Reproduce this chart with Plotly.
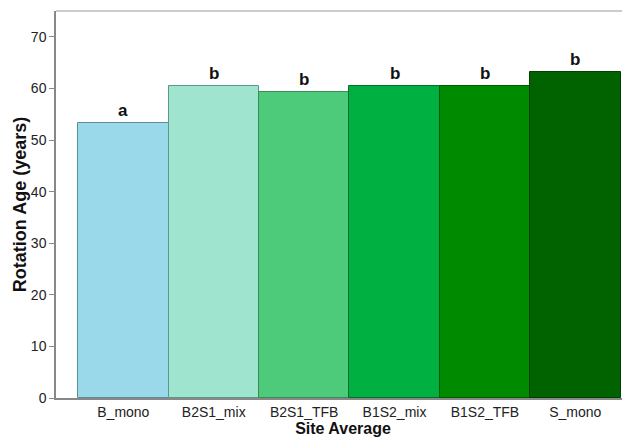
import plotly.graph_objects as go

categories = ["B_mono", "B2S1_mix", "B2S1_TFB", "B1S2_mix", "B1S2_TFB", "S_mono"]
rotation_age = [53.2, 60.4, 59.3, 60.4, 60.5, 63.2]
group_letters = ["a", "b", "b", "b", "b", "b"]
bar_colors = ["#9AD9EA", "#9FE4CE", "#4DCB7B", "#00B141", "#008A00", "#006300"]
edge_colors = ["#5F8E95", "#5E9688", "#3A8A5A", "#0A6A30", "#045A04", "#023F02"]
y_ticks = [0, 10, 20, 30, 40, 50, 60, 70]

fig = go.Figure()
fig.add_trace(go.Bar(
    x=categories, y=rotation_age,
    marker=dict(color=bar_colors, line=dict(color=edge_colors, width=1)),
    width=1.0,
    showlegend=False,
))

for c, v, t in zip(categories, rotation_age, group_letters):
    fig.add_annotation(x=c, y=v, text="<b>" + t + "</b>", showarrow=False,
                       yanchor="bottom", yshift=1,
                       font=dict(family="Liberation Sans", size=17, color="#111111"))

fig.add_shape(type="line", xref="paper", yref="paper", x0=0, x1=1, y0=1, y1=1,
              line=dict(color="#BBBBBB", width=1.5))

fig.update_layout(
    width=622, height=429,
    margin=dict(l=48, r=0, t=3, b=39),
    plot_bgcolor="white", paper_bgcolor="white",
    bargap=0,
    font=dict(family="Liberation Sans", color="#333333"),
    xaxis=dict(
        range=[-0.745, 5.605],
        showline=True, linecolor="#888888", linewidth=1.5,
        ticks="", showgrid=False,
        tickfont=dict(size=14, color="#222222"),
        title=dict(text="<b>Site Average</b>", font=dict(size=16, color="#111111"), standoff=0),
        automargin=False,
    ),
    yaxis=dict(
        range=[0, 75],
        tickvals=y_ticks,
        showline=True, linecolor="#888888", linewidth=1.5,
        ticks="outside", ticklen=5, tickcolor="#888888", tickwidth=1,
        showgrid=False, zeroline=False,
        tickfont=dict(size=14, color="#222222"),
        title=dict(text="<b>Rotation Age (years)</b>", font=dict(size=18, color="#111111"), standoff=0),
        automargin=False,
    ),
)

fig.write_html("out.html")
